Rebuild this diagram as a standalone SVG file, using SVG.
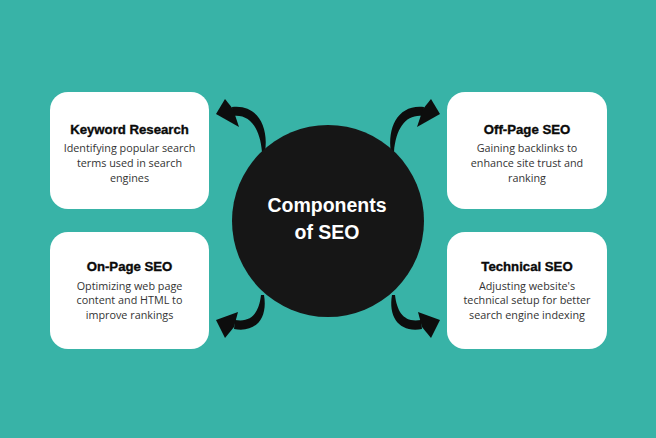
<svg xmlns="http://www.w3.org/2000/svg" width="656" height="438" viewBox="0 0 656 438">
<style>
.box{fill:#ffffff}
.t{font-family:"Liberation Sans",Arial,sans-serif;font-weight:bold;font-size:13.2px;fill:#0a0a0a;stroke:#0a0a0a;stroke-width:0.35px;text-anchor:middle}
.d{font-family:"Open Sans","Noto Sans",sans-serif;font-size:10.8px;fill:#333;text-anchor:middle}
.c{font-family:"Liberation Sans",Arial,sans-serif;font-weight:bold;font-size:19.5px;fill:#fff;text-anchor:middle}
.arr{fill:#0d0d0d}
</style>
<defs>
<g id="arrTop">
<path d="M391,152 C387,126 399,104 424,107 L423,116 C406,114 396,128 394,152 Z"/>
<path d="M440,114 L431,99 L423,109 L417,127 Z"/>
</g>
<g id="arrBot">
<path d="M392,295 C388,318 400,333 422,329 L421,320 C404,323 397,312 395,295 Z"/>
<path d="M440,320 L418,312 L422,327 L431,338 Z"/>
</g>
</defs>
<rect width="656" height="438" fill="#38b3a7"/>
<g id="connectors" class="arr">
<use href="#arrTop"/>
<use href="#arrTop" transform="translate(656,0) scale(-1,1)"/>
<use href="#arrBot"/>
<use href="#arrBot" transform="translate(656,0) scale(-1,1)"/>
</g>
<g id="center">
<circle cx="328" cy="221" r="96" fill="#161616"/>
<text class="c" x="327" y="212">Components</text>
<text class="c" x="327" y="239">of SEO</text>
</g>
<g id="keyword-research">
<rect class="box" x="50" y="92" width="159" height="117" rx="18"/>
<text class="t" x="129.5" y="134">Keyword Research</text>
<text class="d" x="129.5" y="152">Identifying popular search</text>
<text class="d" x="129.5" y="167">terms used in search</text>
<text class="d" x="129.5" y="182">engines</text>
</g>
<g id="off-page-seo">
<rect class="box" x="447" y="92" width="160" height="117" rx="18"/>
<text class="t" x="527" y="134">Off-Page SEO</text>
<text class="d" x="527" y="152">Gaining backlinks to</text>
<text class="d" x="527" y="167">enhance site trust and</text>
<text class="d" x="527" y="182">ranking</text>
</g>
<g id="on-page-seo">
<rect class="box" x="50" y="232" width="159" height="117" rx="18"/>
<text class="t" x="129.5" y="271">On-Page SEO</text>
<text class="d" x="129.5" y="289.5">Optimizing web page</text>
<text class="d" x="129.5" y="304">content and HTML to</text>
<text class="d" x="129.5" y="318.5">improve rankings</text>
</g>
<g id="technical-seo">
<rect class="box" x="447" y="232" width="160" height="117" rx="18"/>
<text class="t" x="527" y="271">Technical SEO</text>
<text class="d" x="527" y="289.5">Adjusting website's</text>
<text class="d" x="527" y="304">technical setup for better</text>
<text class="d" x="527" y="318.5">search engine indexing</text>
</g>
</svg>
